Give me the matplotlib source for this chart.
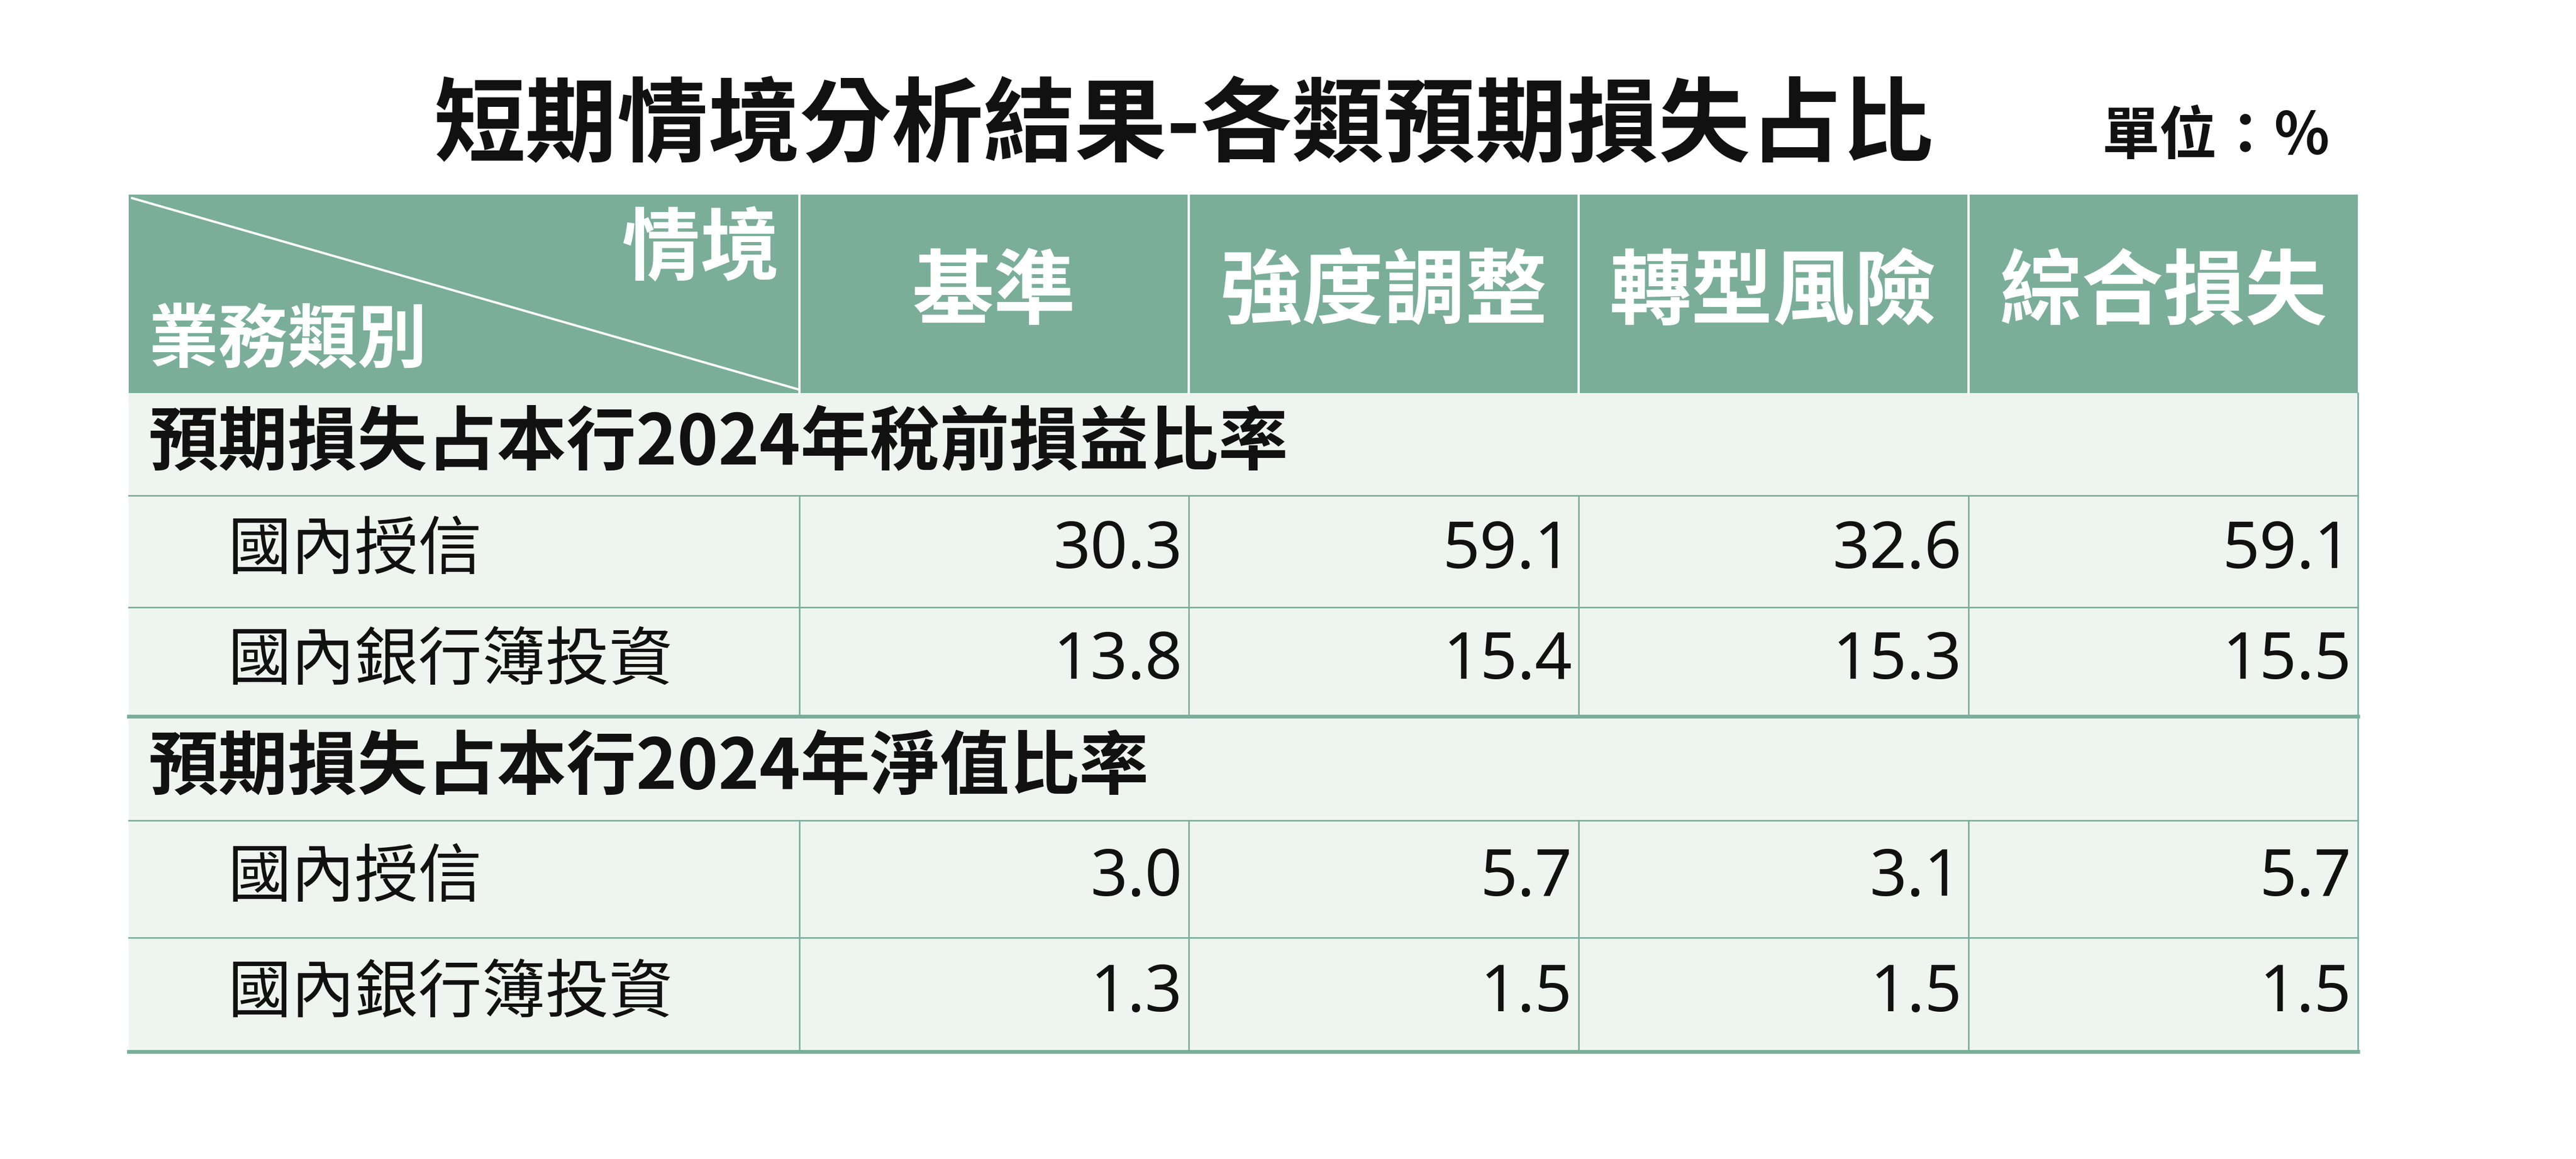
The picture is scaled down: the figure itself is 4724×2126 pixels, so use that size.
import matplotlib
matplotlib.use("Agg")
import matplotlib.pyplot as plt
from matplotlib.patches import Rectangle

plt.rcParams['font.family'] = ['Noto Sans CJK TC', 'DejaVu Sans']

title = "短期情境分析結果-各類預期損失占比"
unit = "單位：%"
scenarios = ["基準", "強度調整", "轉型風險", "綜合損失"]
sections = ["預期損失占本行2024年稅前損益比率", "預期損失占本行2024年淨值比率"]
row_labels = ["國內授信", "國內銀行簿投資"]
values_pretax = [[30.3, 59.1, 32.6, 59.1], [13.8, 15.4, 15.3, 15.5]]
values_networth = [[3.0, 5.7, 3.1, 5.7], [1.3, 1.5, 1.5, 1.5]]

W, H = 1560, 702
fig = plt.figure(figsize=(47.24, 21.26), dpi=100)
ax = fig.add_axes([0, 0, 1, 1])
ax.set_xlim(0, W); ax.set_ylim(H, 0); ax.axis('off')

green = "#7aae98"
light = "#eef5f1"
line = "#7aae98"
cols = [78, 484, 720, 956, 1192, 1428]
L, R = cols[0], cols[-1]

# title
ax.text(717, 77, title, ha='center', va='center', fontsize=121, fontweight='bold', color='#111111')
ax.text(1342, 83, unit, ha='center', va='center', fontsize=76, fontweight='bold', color='#111111')

# header
ax.add_patch(Rectangle((L, 118), R - L, 120, color=green, lw=0))
for x in cols[1:-1]:
    ax.plot([x, x], [118, 238], color='white', lw=3)
ax.plot([L + 2, cols[1]], [120, 236], color='white', lw=3)
ax.text(472, 152, "情境", ha='right', va='center', fontsize=104, fontweight='bold', color='white')
ax.text(90, 207, "業務類別", ha='left', va='center', fontsize=92, fontweight='bold', color='white')
for i, s in enumerate(scenarios):
    ax.text((cols[i + 1] + cols[i + 2]) / 2, 178, s, ha='center', va='center',
            fontsize=108, fontweight='bold', color='white')

blocks = [(238, 300, [(300, 368), (368, 434)], sections[0], values_pretax),
          (434, 497, [(497, 568), (568, 637)], sections[1], values_networth)]
for top, sb, rows, lab, vals in blocks:
    ax.add_patch(Rectangle((L, top), R - L, rows[-1][1] - top, color=light, lw=0))
    ax.text(90, (top + sb) / 2, lab, ha='left', va='center', fontsize=92, fontweight='bold', color='#111111')
    ax.plot([L, R], [sb, sb], color=line, lw=2)
    for (y0, y1), rl, rv in zip(rows, row_labels, vals):
        ax.text(138, (y0 + y1) / 2, rl, ha='left', va='center', fontsize=84, color='#111111')
        for j, v in enumerate(rv):
            ax.text(cols[j + 2] - 4, (y0 + y1) / 2, f"{v:.1f}", ha='right', va='center',
                    fontsize=86, color='#111111', family=['Noto Sans', 'DejaVu Sans'])
        ax.plot([L, R], [y1, y1], color=line, lw=2 if y1 != rows[-1][1] else 5)
    for x in cols[1:]:
        ax.plot([x, x], [sb, rows[-1][1]], color=line, lw=2)
    ax.plot([R, R], [top, sb], color=line, lw=2)

fig.savefig("out.png", dpi=100, facecolor='white')
